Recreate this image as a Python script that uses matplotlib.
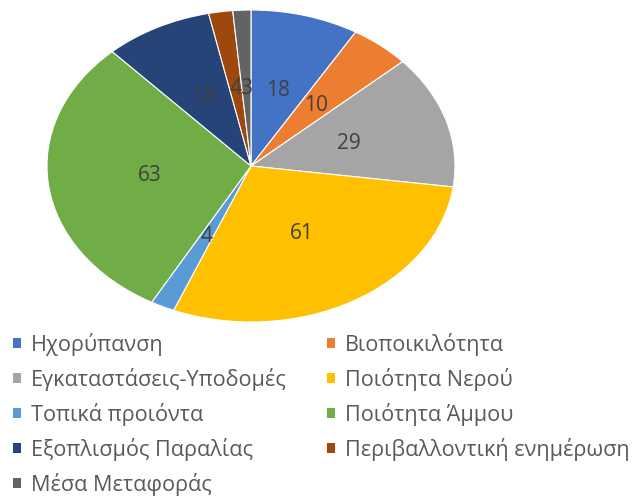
import matplotlib.pyplot as plt
from matplotlib.patches import Patch

plt.rcParams['font.family'] = ['Open Sans', 'DejaVu Sans']

labels = ['Ηχορύπανση', 'Βιοποικιλότητα', 'Εγκαταστάσεις-Υποδομές', 'Ποιότητα Νερού',
          'Τοπικά προιόντα', 'Ποιότητα Άμμου', 'Εξοπλισμός Παραλίας',
          'Περιβαλλοντική ενημέρωση', 'Μέσα Μεταφοράς']
values = [18, 10, 29, 61, 4, 63, 18, 4, 3]
colors = ['#4472C4', '#ED7D31', '#A5A5A5', '#FFC000', '#5B9BD5', '#70AD47',
          '#264478', '#9E480E', '#636363']

total = sum(values)

fig = plt.figure(figsize=(6.33, 4.97), dpi=100)
ax = fig.add_axes([47/633, 1 - 322/497, 408/633, 312/497])
wedges, texts, autotexts = ax.pie(
    values, colors=colors, startangle=90, counterclock=False,
    autopct=lambda p: f"{round(p * total / 100):d}", pctdistance=0.5,
    wedgeprops=dict(edgecolor='white', linewidth=0.8),
    textprops=dict(color='#404040', fontsize=15))
ax.set_aspect('auto')
ax.set_xlim(-1, 1)
ax.set_ylim(-1, 1)

# legend row by row, two columns
order = [0, 2, 4, 6, 8, 1, 3, 5, 7]
handles = [Patch(facecolor=colors[i], edgecolor='none') for i in order]
leg = fig.legend(handles, [labels[i] for i in order], ncol=2,
                 loc='upper left', bbox_to_anchor=(13/633, 1 - 333/497),
                 frameon=False, fontsize=15.6, handlelength=0.35, handleheight=0.35,
                 handletextpad=0.46, labelspacing=0.55, columnspacing=1.9,
                 borderpad=0, borderaxespad=0, labelcolor='#595959')

fig.savefig('out.png', dpi=100)
